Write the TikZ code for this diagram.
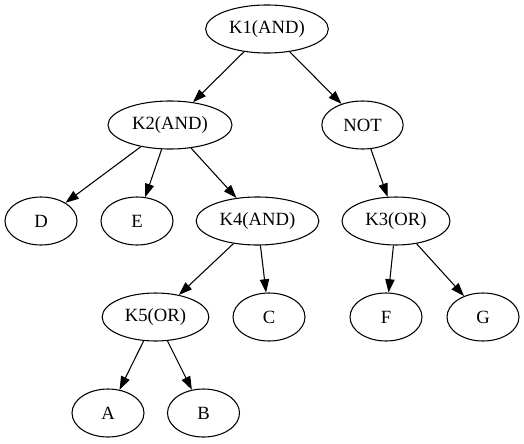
\documentclass[tikz,border=0pt]{standalone}
\usepackage{fontspec}
\setmainfont{Liberation Serif}
\usetikzlibrary{arrows.meta,shapes.geometric}
\begin{document}
\begin{tikzpicture}[x=0.75pt,y=-0.75pt,
 nd/.style={draw,ellipse,minimum height=36pt,inner sep=0pt,font=\fontsize{14}{16}\selectfont,line width=0.8pt},
 ed/.style={-{Triangle[length=10pt,width=7pt]},line width=0.8pt}]
\useasboundingbox (0,0) rectangle (524,443);
\node[nd,minimum width=92pt] (k1) at (267,29) {K1(AND)};
\node[nd,minimum width=93pt] (k2) at (170,125) {K2(AND)};
\node[nd,minimum width=61pt] (not) at (362.5,125) {NOT};
\node[nd,minimum width=54pt] (d) at (41,221) {D};
\node[nd,minimum width=54pt] (e) at (137,221) {E};
\node[nd,minimum width=92pt] (k4) at (257.5,221) {K4(AND)};
\node[nd,minimum width=81pt] (k3) at (396,221) {K3(OR)};
\node[nd,minimum width=80pt] (k5) at (155.5,317) {K5(OR)};
\node[nd,minimum width=54pt] (c) at (269,317) {C};
\node[nd,minimum width=54pt] (f) at (386,317) {F};
\node[nd,minimum width=54pt] (g) at (483,317) {G};
\node[nd,minimum width=54pt] (a) at (108,413) {A};
\node[nd,minimum width=54pt] (b) at (203.5,413) {B};
\draw[ed] (k1) -- (k2);
\draw[ed] (k1) -- (not);
\draw[ed] (k2) -- (d);
\draw[ed] (k2) -- (e);
\draw[ed] (k2) -- (k4);
\draw[ed] (not) -- (k3);
\draw[ed] (k4) -- (k5);
\draw[ed] (k4) -- (c);
\draw[ed] (k3) -- (f);
\draw[ed] (k3) -- (g);
\draw[ed] (k5) -- (a);
\draw[ed] (k5) -- (b);
\end{tikzpicture}
\end{document}
